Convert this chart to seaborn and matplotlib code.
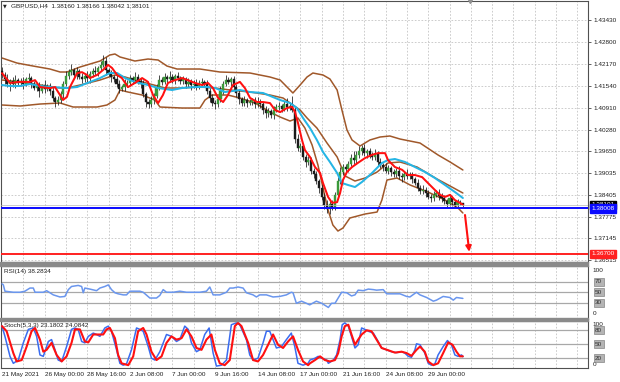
import numpy as np
import pandas as pd
import matplotlib
matplotlib.use("Agg")
import matplotlib.pyplot as plt
import seaborn as sns
from matplotlib.patches import Rectangle
from matplotlib.transforms import blended_transform_factory

# ---------------- data ----------------
title_text = "GBPUSD,H4  1.38160 1.38166 1.38042 1.38101"
date_ticks = [0, 16, 32, 48, 64, 80, 96, 112, 128, 144, 160]
date_labels = ["21 May 2021", "26 May 00:00", "28 May 16:00", "2 Jun 08:00", "7 Jun 00:00",
               "9 Jun 16:00", "14 Jun 08:00", "17 Jun 00:00", "21 Jun 16:00",
               "24 Jun 08:00", "29 Jun 00:00"]
price_ticks = [1.43430, 1.42800, 1.42170, 1.41540, 1.40910, 1.40280, 1.39650,
               1.39035, 1.38405, 1.37775, 1.37145, 1.36515]

first_open = 1.4195
closes = [
    1.4185, 1.4172, 1.4158, 1.4168, 1.4160, 1.4170, 1.4162, 1.4168, 1.4160, 1.4172,
    1.4175, 1.4158, 1.4148, 1.4152, 1.4140, 1.4155, 1.4145, 1.4152, 1.4140, 1.4118,
    1.4108, 1.4112, 1.4130, 1.4158, 1.4182, 1.4192, 1.4198, 1.4185, 1.4195, 1.4180,
    1.4172, 1.4182, 1.4175, 1.4188, 1.4195, 1.4192, 1.4205, 1.4215, 1.4225, 1.4198,
    1.4190, 1.4178, 1.4172, 1.4160, 1.4145, 1.4150, 1.4158, 1.4162, 1.4175, 1.4170,
    1.4180, 1.4168, 1.4160, 1.4130, 1.4108, 1.4100, 1.4112, 1.4125, 1.4150, 1.4170,
    1.4165, 1.4178, 1.4172, 1.4180, 1.4170, 1.4182, 1.4175, 1.4168, 1.4172, 1.4160,
    1.4165, 1.4155, 1.4160, 1.4152, 1.4162, 1.4165, 1.4158, 1.4140, 1.4120, 1.4105,
    1.4100, 1.4115, 1.4140, 1.4160, 1.4170, 1.4165, 1.4172, 1.4150, 1.4132, 1.4115,
    1.4105, 1.4112, 1.4105, 1.4108, 1.4112, 1.4102, 1.4108, 1.4100, 1.4085, 1.4075,
    1.4080, 1.4070, 1.4085, 1.4092, 1.4095, 1.4088, 1.4100, 1.4092, 1.4095, 1.4085,
    1.4000, 1.3975, 1.3980, 1.3950, 1.3935, 1.3940, 1.3910, 1.3900, 1.3880, 1.3860,
    1.3835, 1.3810, 1.3800, 1.3815, 1.3805, 1.3840, 1.3880, 1.3905, 1.3920, 1.3915,
    1.3930, 1.3945, 1.3940, 1.3955, 1.3965, 1.3975, 1.3960, 1.3965, 1.3955, 1.3950,
    1.3958, 1.3935, 1.3925, 1.3920, 1.3910, 1.3918, 1.3905, 1.3900, 1.3910, 1.3895,
    1.3890, 1.3900, 1.3895, 1.3898, 1.3885, 1.3875, 1.3860, 1.3850, 1.3855, 1.3845,
    1.3835, 1.3830, 1.3840, 1.3845, 1.3838, 1.3830, 1.3822, 1.3815, 1.3830, 1.3818,
    1.3812, 1.3820, 1.3816, 1.38101]
wick_up_pips = [
    12, 8, 15, 6, 10, 14, 5, 9, 12, 7, 15, 6, 10, 8, 12, 5, 14, 7, 9, 10,
    6, 12, 8, 10, 14, 9, 18, 7, 12, 8, 10, 6, 13, 8, 9, 15, 7, 10, 16, 12,
    8, 10, 6, 12, 9, 7, 14, 8, 11, 6, 12, 9, 7, 10, 6, 8, 12, 7, 10, 14,
    8, 12, 6, 15, 9, 7, 11, 8, 10, 6, 12, 7, 9, 14, 8, 10, 6, 12, 8, 9,
    7, 10, 12, 8, 15, 9, 6, 11, 8, 10, 7, 12, 8, 9, 6, 10, 14, 8, 7, 12,
    9, 6, 10, 8, 12, 7, 9, 18, 10, 30, 12, 15, 8, 10, 7, 12, 9, 8, 10, 7,
    12, 9, 15, 8, 10, 7, 12, 14, 9, 10, 8, 12, 20, 10, 16, 8, 12, 7, 10, 9,
    14, 8, 10, 7, 12, 9, 6, 10, 8, 12, 7, 10, 14, 8, 9, 6, 10, 8, 12, 7,
    9, 6, 10, 8, 12, 7, 9, 6, 10, 8, 7, 9, 5, 1]
wick_dn_pips = [
    10, 14, 8, 20, 9, 12, 7, 10, 15, 8, 9, 12, 7, 10, 18, 8, 11, 6, 12, 9,
    14, 10, 8, 12, 6, 10, 7, 9, 12, 8, 11, 7, 10, 12, 8, 6, 9, 10, 7, 12,
    9, 14, 8, 10, 12, 7, 10, 9, 8, 11, 7, 10, 12, 9, 14, 10, 8, 12, 7, 9,
    10, 6, 12, 8, 9, 11, 7, 10, 8, 12, 9, 14, 7, 10, 8, 12, 9, 10, 14, 8,
    12, 7, 9, 10, 8, 6, 12, 9, 10, 14, 8, 10, 12, 7, 9, 11, 8, 10, 12, 14,
    10, 8, 12, 7, 9, 10, 8, 12, 9, 7, 10, 8, 12, 9, 14, 8, 10, 12, 9, 14,
    10, 12, 12, 15, 10, 9, 7, 10, 8, 12, 9, 7, 10, 12, 8, 10, 9, 14, 8, 10,
    9, 12, 8, 10, 7, 9, 12, 8, 10, 9, 12, 8, 10, 9, 12, 8, 10, 7, 9, 12,
    8, 10, 9, 7, 12, 10, 8, 9, 7, 10, 8, 7, 6, 6]

# fast MA (red)
red_x = [0, 3, 6.8, 10.5, 12.4, 14.3, 18, 19.9, 21.8, 22.9, 24.4, 25.5, 28.2, 30, 31.9,
         33, 35.7, 37.9, 39.8, 41.3, 43.2, 45, 47.3, 49.9, 52.6, 54.8, 56.7, 58.6, 60.4, 62.3,
         64.9, 67.6, 69.8, 72.4, 75.1, 77.3, 79.2, 81.1, 83, 84.8, 86.7, 89.3, 91.2, 93.1, 95.7,
         98, 100.6, 102.5, 104.4, 107, 108.9, 110, 111.1, 112.6, 113.7, 115.6, 117.5, 119.4,
         120.5, 122.4, 123.9, 125.8, 126.9, 128, 129.5, 131.4, 133.6, 136.3, 138.9, 141.1,
         143.8, 144.9, 147.5, 150.2, 152.4, 155, 157.7, 159.9, 162.5, 164.4, 166.3, 168.2,
         170, 171.9, 173]
red_v = [1.4190, 1.4162, 1.4165, 1.4165, 1.4170, 1.4150, 1.4147, 1.4150, 1.4127, 1.4113,
         1.4122, 1.4150, 1.4190, 1.4193, 1.4185, 1.4176, 1.4185, 1.4199, 1.4214, 1.4205,
         1.4185, 1.4176, 1.4150, 1.4162, 1.4176, 1.4165, 1.4127, 1.4104, 1.4127, 1.4162,
         1.4170, 1.4176, 1.4170, 1.4162, 1.4156, 1.4162, 1.4147, 1.4119, 1.4107, 1.4127,
         1.4156, 1.4165, 1.4147, 1.4119, 1.4107, 1.4107, 1.4104, 1.4084, 1.4078, 1.4090,
         1.4093, 1.4078, 1.4047, 1.3998, 1.3969, 1.3949, 1.3920, 1.3903, 1.3874, 1.3834,
         1.3817, 1.3819, 1.3845, 1.3883, 1.3906, 1.3920, 1.3932, 1.3946, 1.3955, 1.3960,
         1.3960, 1.3940, 1.3920, 1.3912, 1.3897, 1.3897, 1.3891, 1.3874, 1.3854, 1.3840,
         1.3834, 1.3840, 1.3825, 1.3817, 1.3811]

# slow MA (cyan)
cyan_x = [0, 3, 6.8, 10.5, 14.3, 18, 24.4, 28.2, 33, 36.8, 40.5, 43.2, 46.2, 49.9, 54.8,
          58.6, 63.8, 67.6, 72.4, 77.3, 80, 83.7, 89.3, 93.1, 98, 104.4, 108.1, 110.7, 113,
          115.6, 118.2, 120.5, 123.1, 125.8, 127.6, 129.9, 132.5, 135.1, 138.9, 142.6, 144.9,
          147.5, 151.3, 155, 158.8, 162.5, 166.3, 170, 173]
cyan_v = [1.41560, 1.41531, 1.41531, 1.41589, 1.41531, 1.41502, 1.41474, 1.41502, 1.41646,
          1.41761, 1.41905, 1.41905, 1.41761, 1.41646, 1.41560, 1.41474, 1.41416, 1.41474,
          1.41502, 1.41502, 1.41474, 1.41358, 1.41416, 1.41358, 1.41330, 1.41128, 1.41042,
          1.40898, 1.40611, 1.40323, 1.39978, 1.39632, 1.39345, 1.39028, 1.38740, 1.38683,
          1.38625, 1.38769, 1.39028, 1.39316, 1.39402, 1.39431, 1.39345, 1.39201, 1.39057,
          1.38884, 1.38683, 1.38482, 1.38309]

# Bollinger bands (brown)
bb_up_x = [0, 5.6, 11.6, 18, 21.8, 24.4, 29.3, 36.8, 40.5, 42.4, 44.3, 49.9, 54.8, 58.6,
           61.9, 65.7, 74.3, 81.8, 93.1, 100.6, 104.4, 107, 109.2, 111.9, 114.5, 116.7, 120.5,
           123.1, 125.8, 127.6, 129.5, 131.4, 134.4, 138.1, 141.9, 145.6, 149.4, 156.9, 163.7,
           168.2, 173]
bb_up_v = [1.42337, 1.42193, 1.42107, 1.42020, 1.41934, 1.41934, 1.42078, 1.42250, 1.42423,
           1.42452, 1.42366, 1.42250, 1.42308, 1.42279, 1.42107, 1.42020, 1.42020, 1.41934,
           1.41905, 1.41790, 1.41704, 1.41502, 1.41330, 1.41560, 1.41790, 1.41905, 1.41848,
           1.41733, 1.41416, 1.40841, 1.40265, 1.39978, 1.39805, 1.39978, 1.40064, 1.40093,
           1.40006, 1.39891, 1.39546, 1.39345, 1.39115]
bb_mid_x = [0, 6.8, 14.3, 21.8, 24.4, 29.3, 36.8, 42.4, 46.2, 49.9, 55.6, 61.2, 66.8, 74.3,
            80, 85.6, 93.1, 100.6, 105.5, 109.2, 111.9, 114.5, 118.2, 122, 125.8, 128.8, 132.5,
            136.3, 140.8, 144.9, 149.4, 155.8, 163.3, 168.2, 173]
bb_mid_v = [1.41704, 1.41646, 1.41560, 1.41474, 1.41474, 1.41560, 1.41704, 1.41848, 1.41790,
            1.41704, 1.41589, 1.41474, 1.41474, 1.41502, 1.41474, 1.41416, 1.41358, 1.41272,
            1.41186, 1.40985, 1.40841, 1.40611, 1.40323, 1.39891, 1.39489, 1.38942, 1.38798,
            1.38884, 1.39057, 1.39316, 1.39345, 1.39201, 1.38856, 1.38654, 1.38453]
bb_lo_x = [0, 6.8, 14.3, 21.8, 26.7, 35.7, 39.4, 42.4, 44.3, 47.3, 52.6, 57.4, 59.3, 67.6,
           74.3, 76.2, 78.8, 84.8, 89.3, 95, 100.6, 104.4, 108.1, 111.1, 113.7, 116.4, 118.6,
           120.5, 122.4, 124.2, 126.1, 128, 130.6, 136.3, 140.8, 142.6, 144.5, 148.3, 153.2,
           159.9, 166.3, 171.2, 173]
bb_lo_v = [1.40985, 1.40956, 1.41013, 1.41042, 1.40927, 1.40927, 1.40985, 1.41128, 1.41416,
           1.41358, 1.41272, 1.41128, 1.40927, 1.40898, 1.40898, 1.41128, 1.41272, 1.41272,
           1.41186, 1.41042, 1.40783, 1.40639, 1.40524, 1.40611, 1.40323, 1.39834, 1.39258,
           1.38597, 1.37964, 1.37532, 1.37359, 1.37446, 1.37734, 1.37849, 1.37906, 1.38251,
           1.38827, 1.38884, 1.38683, 1.38482, 1.38251, 1.38021, 1.37878]

support_level = 1.38008
target_level = 1.36700
last_price = 1.38101
arrow_from = (173.8, 1.3782)
arrow_to = (175.4, 1.3676)

# RSI(14)
rsi_x = [0, 0.5, 1.1, 4.25, 6.75, 8.6, 10.5, 11.75, 12.4, 15.5, 16.75, 19.25, 21.75, 23.6,
         24.9, 26.1, 28.6, 29.9, 30.5, 31.1, 33, 35.5, 36.75, 38.6, 39.9, 41.1, 42.4, 43.6,
         45.5, 46.75, 48, 49.25, 51.75, 53, 55.5, 58, 59.25, 60.5, 61.75, 64.25, 66.75, 69.25,
         71.75, 74.25, 76.75, 78, 79.25, 81.75, 84.25, 85.5, 86.75, 88.6, 90.5, 91.75, 94.25,
         95.5, 96.75, 99.25, 101.75, 104.25, 106.75, 108.6, 109.25, 110.5, 112.4, 114.25,
         115.5, 118, 120, 121.9, 122.5, 123.7, 125, 127.5, 129.4, 131.2, 132.5, 133.7, 135.6,
         137.5, 139.4, 140.6, 143.1, 144.4, 146.9, 149.4, 151.9, 153.1, 155.6, 156.9, 159.4,
         161.9, 163.1, 165.6, 166.9, 168.1, 169.4, 170.6, 173]
rsi_v = [66, 64, 52, 50, 50, 52, 58, 58, 50, 50, 53, 45, 41, 42, 55, 61, 63, 61, 49, 58,
         56, 53, 58, 61, 64, 55, 49, 47, 45, 45, 52, 52, 52, 50, 39, 39, 44, 55, 50, 50,
         52, 50, 50, 50, 52, 60, 45, 45, 50, 58, 58, 60, 58, 49, 45, 41, 45, 45, 41, 42,
         45, 50, 49, 29, 33, 29, 26, 33, 29, 23, 21, 29, 29, 50, 49, 43, 45, 54, 53, 56,
         55, 54, 55, 47, 47, 47, 42, 41, 50, 45, 40, 33, 35, 42, 41, 40, 35, 40, 38.28]

# Stochastic(5,3,3): main (blue) and signal (red)
stk_x = [0, 1.1, 3, 4.25, 6.1, 8, 9.9, 11.75, 13, 14.25, 15.5, 17.4, 18.6, 19.9, 21.1, 22.4,
         24.25, 26.1, 27.4, 28.6, 29.9, 31.1, 32.4, 34.25, 35.5, 36.75, 38.6, 39.9, 41.1, 43,
         44.25, 45.5, 46.75, 48.6, 50.5, 51.75, 53, 54.9, 56.1, 57.4, 59.25, 61.75, 63.6, 65.5,
         66.75, 68.6, 69.9, 71.1, 73, 74.25, 76.1, 77.75, 79.25, 80.5, 82.4, 84.25, 86.1, 88,
         89.25, 91.75, 93, 94.25, 96.1, 98, 99.25, 100.5, 101.75, 103, 104.9, 106.75, 108.6,
         109.9, 111.1, 113, 114.9, 115.6, 117.5, 118.7, 120, 121.9, 122.5, 124.4, 125.6, 126.9,
         127.7, 128.7, 130, 131.2, 132.5, 133.7, 135, 136.2, 137.5, 139.4, 141.2, 142.5, 144.4,
         146.2, 148.1, 150, 151.2, 152.5, 153.7, 155, 155.6, 156.9, 158.7, 160, 161.2, 162.5,
         163.7, 165.6, 167.2, 168.7, 170, 171.2, 172.5, 173]
stk_v = [89, 67, 24, 9, 16, 53, 82, 85, 67, 27, 24, 56, 60, 38, 16, 13, 45, 82, 85, 82,
         56, 53, 67, 74, 71, 67, 85, 89, 78, 38, 9, 5, 8, 38, 85, 82, 78, 45, 20, 16,
         34, 71, 67, 56, 60, 89, 82, 53, 34, 38, 71, 85, 31, 3, 5, 16, 92, 96, 92, 60,
         27, 16, 20, 53, 78, 78, 60, 42, 45, 60, 74, 45, 9, 5, 9, 16, 20, 24, 20, 16,
         9, 16, 27, 60, 92, 96, 89, 67, 42, 49, 85, 82, 78, 74, 56, 42, 38, 34, 32, 34,
         31, 24, 22, 38, 51, 49, 31, 9, 5, 8, 27, 45, 58, 49, 27, 24, 27, 23.18]
std_x = [0, 1.75, 4.25, 5.5, 7.4, 9.25, 11.1, 12.4, 14.25, 15.5, 16.75, 18.6, 20.5, 22.4,
         24.25, 26.1, 27.4, 29.25, 31.1, 32.4, 34.25, 36.1, 38, 39.25, 40.5, 42.4, 43.6, 44.9,
         47.4, 49.25, 51.1, 53, 54.25, 56.1, 58, 59.9, 61.75, 63.6, 65.5, 67.4, 69.25, 71.1,
         73, 74.9, 76.75, 78.6, 79.9, 81.75, 83.6, 85.5, 87.4, 88.6, 89.9, 92.4, 94.25, 96.1,
         98, 99.9, 101.75, 103.6, 105.5, 107.4, 109.25, 111.1, 113, 114.9, 115.6, 117.5, 119.4,
         121.2, 123.1, 125, 126.2, 127.5, 128.7, 130, 131.2, 132.5, 133.7, 135, 136.9, 138.7,
         140.6, 142.5, 145, 147.5, 150, 151.9, 153.7, 155.6, 156.9, 158.7, 160, 161.9, 163.7,
         165.6, 167.5, 169.1, 170.6, 171.9, 173]
std_v = [89, 78, 31, 13, 16, 45, 78, 85, 60, 34, 38, 53, 27, 13, 24, 53, 82, 82, 56, 54,
         71, 71, 71, 82, 85, 63, 27, 9, 5, 24, 78, 85, 71, 34, 16, 24, 53, 67, 60, 63,
         82, 67, 42, 38, 60, 71, 38, 9, 5, 16, 89, 96, 89, 53, 16, 13, 27, 49, 71, 49,
         42, 56, 67, 38, 13, 5, 9, 16, 24, 16, 13, 16, 31, 67, 89, 92, 71, 49, 60, 71,
         80, 78, 60, 42, 37, 32, 34, 31, 25, 38, 45, 34, 13, 5, 9, 31, 54, 49, 34, 24,
         24.08]

rsi_levels = [70, 50, 30]
stoch_levels = [80, 50, 20]

# ---------------- drawing ----------------
sns.set_theme(style="white")
plt.rcParams['font.family'] = ['Liberation Sans', 'DejaVu Sans']

W, H = 620, 382
fig = plt.figure(figsize=(6.2, 3.82), dpi=100)
fig.patch.set_facecolor("white")


def ax_px(x0, y0, x1, y1):
    return fig.add_axes([x0 / W, 1 - y1 / H, (x1 - x0) / W, (y1 - y0) / H])


ax = ax_px(1, 1, 588, 262)
ax_rsi = ax_px(1, 266, 588, 318.5)
ax_st = ax_px(1, 321, 588, 367.5)

XL = (-0.375, 219.97)
GRID_C = "#c4c4c4"
SPINE_C = "#505050"
TXT_C = "#202020"
FS = 4.6

for a in (ax, ax_rsi, ax_st):
    a.set_xlim(*XL)
    a.set_facecolor("white")
    for s in a.spines.values():
        s.set_color(SPINE_C)
        s.set_linewidth(0.8)
    for g in range(8, 220, 8):
        a.axvline(g, color=GRID_C, lw=0.6, ls=(0, (2, 2)), zorder=0)

# --- main panel ---
ax.set_ylim(1.36468, 1.43977)
for t in price_ticks:
    ax.axhline(t, color=GRID_C, lw=0.6, ls=(0, (2, 2)), zorder=0)

n = len(closes)
idx = np.arange(n)
opens = [first_open] + closes[:-1]
df = pd.DataFrame({"i": idx, "open": opens, "close": closes,
                   "up": wick_up_pips, "dn": wick_dn_pips})
df["top"] = df[["open", "close"]].max(axis=1)
df["bot"] = df[["open", "close"]].min(axis=1)
df["high"] = df["top"] + df["up"] / 10000.0
df["low"] = df["bot"] - df["dn"] / 10000.0
df["bull"] = df["close"] >= df["open"]
body_h = (df["top"] - df["bot"]).clip(lower=0.00006)

bands = [(bb_up_x, bb_up_v), (bb_mid_x, bb_mid_v), (bb_lo_x, bb_lo_v)]
for bx, bv in bands:
    sns.lineplot(x=bx, y=bv, ax=ax, color="#a0582a", linewidth=1.1, sort=False,
                 estimator=None, legend=False, zorder=2)

ax.vlines(df["i"], df["low"], df["high"], color="#1a1a1a", lw=0.55, zorder=3)
colors = np.where(df["bull"], "#3a9a3a", "#1a1a1a")
ax.bar(df["i"], body_h, bottom=df["bot"], width=0.8, color=colors,
       edgecolor=colors, linewidth=0.3, zorder=3)

sns.lineplot(x=cyan_x, y=cyan_v, ax=ax, color="#25b5e5", linewidth=1.45, sort=False,
             estimator=None, legend=False, zorder=4)
sns.lineplot(x=red_x, y=red_v, ax=ax, color="#ff1010", linewidth=1.45, sort=False,
             estimator=None, legend=False, zorder=5)

ax.axhline(last_price, color="#b8b8b8", lw=0.5, zorder=5)
ax.axhline(support_level, color="#0a0aff", lw=1.4, zorder=6)
ax.axhline(target_level, color="#ff2020", lw=1.4, zorder=6)
ax.annotate("", xy=arrow_to, xytext=arrow_from,
            arrowprops=dict(arrowstyle="-|>", color="#ff1010", lw=1.5,
                            mutation_scale=8, shrinkA=0, shrinkB=0), zorder=7)
# chart shift marker
ax.plot([175.7], [1.43977], marker="v", color="#909090", markersize=3, clip_on=False, zorder=8)

ax.set_xticks([])
ax.yaxis.tick_right()
ax.set_yticks(price_ticks)
ax.set_yticklabels([f"{t:.5f}" for t in price_ticks])
ax.tick_params(axis="y", length=2, width=0.5, pad=2, labelsize=FS, colors=TXT_C)
ax.set_xlabel("")
ax.set_ylabel("")

tr = blended_transform_factory(ax.transAxes, ax.transData)
ax.text(1.006, last_price + 0.00014, f"{last_price:.5f}", transform=tr, fontsize=FS,
        color="white", va="center", ha="left", zorder=9, clip_on=False,
        bbox=dict(boxstyle="square,pad=0.25", fc="black", ec="black"))
ax.text(1.006, support_level, f"{support_level:.5f}", transform=tr, fontsize=FS,
        color="white", va="center", ha="left", zorder=10, clip_on=False,
        bbox=dict(boxstyle="square,pad=0.25", fc="#0a0aff", ec="#0a0aff"))
ax.text(1.006, target_level, f"{target_level:.5f}", transform=tr, fontsize=FS,
        color="white", va="center", ha="left", zorder=10, clip_on=False,
        bbox=dict(boxstyle="square,pad=0.25", fc="#ff2020", ec="#ff2020"))

# --- RSI panel ---
ax_rsi.set_ylim(0, 100)
for lv in rsi_levels:
    ax_rsi.axhline(lv, color="#a8a8a8", lw=0.9, zorder=1)
sns.lineplot(x=rsi_x, y=rsi_v, ax=ax_rsi, color="#6a96ee", linewidth=1.1, sort=False,
             estimator=None, legend=False, zorder=3)
ax_rsi.set_xticks([])
ax_rsi.set_yticks([])
ax_rsi.set_xlabel("")
ax_rsi.set_ylabel("")

# --- Stochastic panel ---
ax_st.set_ylim(0, 100)
for lv in stoch_levels:
    ax_st.axhline(lv, color="#a8a8a8", lw=0.9, zorder=1)
sns.lineplot(x=stk_x, y=stk_v, ax=ax_st, color="#3a6cf0", linewidth=1.1, sort=False,
             estimator=None, legend=False, zorder=3)
sns.lineplot(x=std_x, y=std_v, ax=ax_st, color="#ff1010", linewidth=1.5, sort=False,
             estimator=None, legend=False, zorder=4)
ax_st.set_yticks([])
ax_st.set_xticks(date_ticks)
ax_st.set_xticklabels(date_labels)
ax_st.tick_params(axis="x", length=2, width=0.5, pad=1.5, labelsize=FS, colors=TXT_C)
for lab in ax_st.get_xticklabels():
    lab.set_ha("left")
ax_st.set_xlabel("")
ax_st.set_ylabel("")


# right-side indicator labels
def level_box(a, y, s):
    t = blended_transform_factory(a.transAxes, a.transData)
    a.text(1.012, y, s, transform=t, fontsize=4.6, color="#303030", va="center", ha="left",
           clip_on=False, bbox=dict(boxstyle="square,pad=0.22", fc="#b4b4b4", ec="#707070", lw=0.4))


def plain_label(a, y, s):
    t = blended_transform_factory(a.transAxes, a.transData)
    a.text(1.008, y, s, transform=t, fontsize=FS, color=TXT_C, va="center", ha="left",
           clip_on=False)


plain_label(ax_rsi, 92, "100")
plain_label(ax_rsi, 10, "0")
for lv in rsi_levels:
    level_box(ax_rsi, lv, str(lv))
plain_label(ax_st, 92, "100")
plain_label(ax_st, 7, "0")
for lv in stoch_levels:
    level_box(ax_st, lv, str(lv))

# panel captions and title
fig.text(3 / W, 1 - 6 / H, "\u25BC", fontsize=3.5, color=TXT_C, va="center",
         family=["DejaVu Sans"])
fig.text(11 / W, 1 - 6 / H, title_text, fontsize=FS, color=TXT_C, va="center")
fig.text(4 / W, 1 - 272 / H, "RSI(14) 38.2834", fontsize=FS, color=TXT_C, va="center")
fig.text(4 / W, 1 - 326 / H, "Stoch(5,3,3) 23.1802 24.0842", fontsize=FS, color=TXT_C,
         va="center")

# panel separators
for y0, y1 in [(262, 266), (318, 321)]:
    fig.add_artist(Rectangle((0, 1 - y1 / H), 588 / W, (y1 - y0) / H,
                             transform=fig.transFigure, color="#8a8a8a", zorder=20))

fig.savefig("out.png", dpi=100)
